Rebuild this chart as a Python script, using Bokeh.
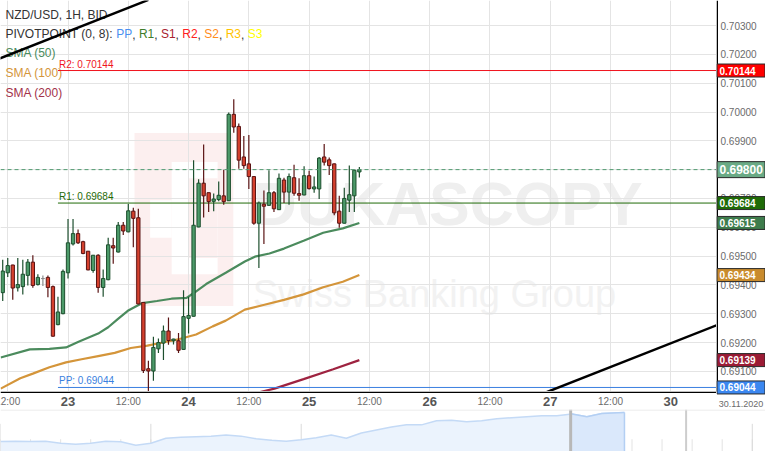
from bokeh.plotting import figure
from bokeh.models import (Range1d, FixedTicker, Label, ColumnDataSource, Span, BoxAnnotation, Grid)
from bokeh.layouts import column, row
from bokeh.embed import file_html
from bokeh.resources import INLINE
from bokeh.core.properties import value

FONT = "Liberation Sans"

# ---------------- data ----------------
# hourly candles, x = hours from 23 Nov 00:00 (trading-time axis)
hours = list(range(-13, 59))
opens = [
    0.69373, 0.69442, 0.69469, 0.69390, 0.69394, 0.69433, 0.69479, 0.69401, 0.69422, 0.69426,
    0.69394, 0.69262, 0.69300, 0.69442, 0.69542, 0.69578, 0.69550, 0.69517, 0.69450, 0.69503,
    0.69391, 0.69418, 0.69536, 0.69514, 0.69607, 0.69584, 0.69656, 0.69633, 0.69339, 0.69109,
    0.69101, 0.69178, 0.69198, 0.69240, 0.69206, 0.69206, 0.69176, 0.69284, 0.69291, 0.69601,
    0.69753, 0.69720, 0.69690, 0.69696, 0.69709, 0.69692, 0.69992, 0.69950, 0.69844, 0.69820,
    0.69776, 0.69614, 0.69680, 0.69676, 0.69720, 0.69661, 0.69764, 0.69722, 0.69772, 0.69717,
    0.69712, 0.69779, 0.69733, 0.69733, 0.69844, 0.69834, 0.69820, 0.69656, 0.69614, 0.69694,
    0.69709, 0.69792]
highs = [
    0.69487, 0.69493, 0.69470, 0.69493, 0.69487, 0.69490, 0.69503, 0.69437, 0.69433, 0.69433,
    0.69398, 0.69359, 0.69453, 0.69629, 0.69629, 0.69592, 0.69553, 0.69518, 0.69503, 0.69506,
    0.69453, 0.69564, 0.69564, 0.69618, 0.69618, 0.69681, 0.69668, 0.69664, 0.69339, 0.69137,
    0.69220, 0.69214, 0.69259, 0.69287, 0.69213, 0.69233, 0.69381, 0.69359, 0.69833, 0.69767,
    0.69887, 0.69720, 0.69717, 0.69759, 0.69800, 0.69998, 0.70044, 0.69960, 0.69917, 0.69920,
    0.69776, 0.69689, 0.69728, 0.69798, 0.69726, 0.69787, 0.69772, 0.69787, 0.69817, 0.69770,
    0.69812, 0.69796, 0.69776, 0.69844, 0.69889, 0.69842, 0.69821, 0.69709, 0.69737, 0.69814,
    0.69800, 0.69809]
lows = [
    0.69344, 0.69427, 0.69348, 0.69377, 0.69367, 0.69398, 0.69390, 0.69398, 0.69396, 0.69357,
    0.69220, 0.69260, 0.69298, 0.69422, 0.69537, 0.69542, 0.69506, 0.69451, 0.69442, 0.69373,
    0.69359, 0.69416, 0.69473, 0.69512, 0.69573, 0.69583, 0.69531, 0.69333, 0.69094, 0.69025,
    0.69067, 0.69164, 0.69139, 0.69192, 0.69193, 0.69164, 0.69174, 0.69231, 0.69290, 0.69600,
    0.69634, 0.69653, 0.69656, 0.69690, 0.69678, 0.69691, 0.69928, 0.69803, 0.69803, 0.69733,
    0.69609, 0.69459, 0.69542, 0.69675, 0.69653, 0.69660, 0.69684, 0.69678, 0.69709, 0.69692,
    0.69711, 0.69731, 0.69720, 0.69698, 0.69814, 0.69781, 0.69642, 0.69598, 0.69613, 0.69653,
    0.69653, 0.69773]
closes = [
    0.69448, 0.69467, 0.69389, 0.69401, 0.69437, 0.69479, 0.69398, 0.69426, 0.69422, 0.69391,
    0.69222, 0.69306, 0.69447, 0.69546, 0.69578, 0.69546, 0.69509, 0.69452, 0.69503, 0.69391,
    0.69422, 0.69539, 0.69528, 0.69607, 0.69587, 0.69657, 0.69631, 0.69334, 0.69103, 0.69101,
    0.69183, 0.69200, 0.69240, 0.69207, 0.69212, 0.69173, 0.69290, 0.69294, 0.69607, 0.69753,
    0.69709, 0.69689, 0.69698, 0.69711, 0.69689, 0.69992, 0.69948, 0.69833, 0.69814, 0.69776,
    0.69614, 0.69684, 0.69673, 0.69720, 0.69664, 0.69770, 0.69722, 0.69776, 0.69718, 0.69711,
    0.69779, 0.69734, 0.69740, 0.69840, 0.69826, 0.69814, 0.69650, 0.69614, 0.69700, 0.69713,
    0.69798, 0.69800]

sma50_t = [-13.4, -7.6, -3.7, -0.4, 2.1, 6.0, 8.0, 9.9, 11.9, 14.8, 17.7, 20.6, 23.6, 24.9,
           27.5, 31.4, 35.2, 37.2, 40.1, 43.0, 46.9, 50.8, 54.7, 58.0]
sma50_v = [0.69148, 0.69176, 0.69178, 0.69183, 0.69203, 0.69231, 0.69253, 0.69281, 0.69310,
           0.69337, 0.69344, 0.69352, 0.69355, 0.69370, 0.69403, 0.69442, 0.69481, 0.69498,
           0.69509, 0.69526, 0.69553, 0.69581, 0.69596, 0.69615]
sma100_t = [-13.4, -9.5, -7.0, -3.7, -0.4, 2.7, 6.0, 9.3, 12.5, 15.8, 19.1, 22.2, 25.5, 28.8,
            31.4, 35.2, 39.1, 43.0, 46.9, 50.8, 54.7, 58.0]
sma100_v = [0.69040, 0.69076, 0.69092, 0.69114, 0.69131, 0.69142, 0.69153, 0.69164, 0.69181,
            0.69189, 0.69201, 0.69212, 0.69228, 0.69256, 0.69276, 0.69314, 0.69331, 0.69348,
            0.69367, 0.69392, 0.69411, 0.69434]
sma200_t = [34.0, 41.1, 46.9, 52.8, 58.0]
sma200_v = [0.69010, 0.69040, 0.69073, 0.69107, 0.69139]

pivot_start = -2.0
pivot_names = ["R2", "R1", "PP"]
pivot_values = [0.70144, 0.69684, 0.69044]
pivot_colors = ["#f0141e", "#1f6b08", "#3a7fe0"]

trend_a_t = [-14.0, 16.0]
trend_a_v = [0.70183, 0.70389]
trend_b_t = [94.0, 130.0]
trend_b_v = [0.69019, 0.69266]

last_price = 0.69800

price_ticks = [0.691, 0.692, 0.693, 0.694, 0.695, 0.696, 0.697, 0.698, 0.699,
               0.700, 0.701, 0.702, 0.703]
day_hours = [0, 24, 48, 72, 96, 120]
day_labels = ["23", "24", "25", "26", "27", "30"]
half_hours = [-12, 12, 36, 60, 84, 108]
half_labels = ["12:00", "12:00", "12:00", "12:00", "12:00", "12:00"]
grid_hours = [-12, 0, 12, 24, 36, 48, 60, 72, 84, 96, 108, 120, 132]
date_label = "30.11.2020"

# navigator (overview) series, x in days
nav_days = [0.0, 0.5, 1.0, 1.5, 2.0, 2.5, 3.0, 3.5, 4.0, 4.5, 5.0, 5.5, 6.0, 6.5, 7.0, 7.5,
            8.0, 8.5, 9.0, 9.5, 10.0, 10.5, 11.0, 11.5, 12.0, 12.5, 13.0, 13.5, 14.0, 14.5,
            15.0, 15.5, 16.0, 16.5, 17.0, 17.5, 18.0, 18.5, 19.0, 19.5, 20.0, 20.75]
nav_level = [9.7, 10, 9.7, 10, 8, 7, 8, 10, 9.5, 6, 8, 13, 14, 14.5, 15, 16, 15, 12.5, 11, 10,
             11.5, 13.5, 16, 13, 18, 21, 24, 26, 26, 30, 30.5, 29, 30, 32, 33, 34, 35, 35,
             36.5, 34, 37, 38]
nav_tick_days = list(range(0, 26))
nav_week_days = [0, 5, 10, 15, 20, 25]
nav_sel_from = 38
nav_handles = [18.96, 22.8]

# ---------------- layout constants ----------------
W = 765
RIGHT = 49
FRAME_W = W - RIGHT      # 716
FRAME_H = 391
STRIP_H = 18
NAV_H = 42
sx = FRAME_W / 732.0
sy = FRAME_H / 407.0
Y_LO, Y_HI = 0.69030, 0.70387
PX = (Y_HI - Y_LO) / FRAME_H   # price per pixel (for the right column)

common = dict(output_backend="svg", toolbar_location=None, x_axis_location=None,
              y_axis_location=None, min_border_left=0, min_border_right=0,
              min_border_top=0, min_border_bottom=0)


def clean(fig):
    fig.grid.visible = False
    fig.outline_line_color = None
    fig.background_fill_color = "white"
    fig.border_fill_color = "white"


# ---------------- main price panel ----------------
p = figure(width=FRAME_W, height=FRAME_H, x_range=Range1d(-13.44, 129.1),
           y_range=Range1d(Y_LO, Y_HI), **common)
clean(p)
p.add_layout(Grid(dimension=0, ticker=FixedTicker(ticks=grid_hours),
                  grid_line_color="#e4e4e4", grid_line_width=1))
p.add_layout(Grid(dimension=1, ticker=FixedTicker(ticks=price_ticks),
                  grid_line_color="#e4e4e4", grid_line_width=1))


def box(l, r, t, b, color):
    return BoxAnnotation(left=l * sx, right=r * sx, top=FRAME_H - t * sy, bottom=FRAME_H - b * sy,
                         left_units="screen", right_units="screen", top_units="screen",
                         bottom_units="screen", fill_color=color, fill_alpha=1.0,
                         line_color=None, level="image")


# watermark
p.add_layout(box(137, 238, 138, 318, "#fcefef"))
p.add_layout(box(175, 222, 168, 285, "#ffffff"))
p.add_layout(box(192, 222, 185, 268, "#fcefef"))
p.add_layout(box(153, 175, 208, 247, "#ffffff"))
p.add_layout(Label(x=258 * sx, y=FRAME_H - 212 * sy, x_units="screen", y_units="screen",
                   text="DUKASCOPY", text_font=FONT, text_font_style="bold",
                   text_font_size="61px", text_color="#efefef", text_baseline="alphabetic",
                   level="image"))
p.add_layout(Label(x=258 * sx, y=FRAME_H - 305 * sy, x_units="screen", y_units="screen",
                   text="Swiss Banking Group", text_font=FONT,
                   text_font_size="38px", text_color="#f2f2f2", text_baseline="alphabetic",
                   level="image"))

# indicators
p.line(sma100_t, sma100_v, line_color="#d4953a", line_width=2.2)
p.line(sma200_t, sma200_v, line_color="#9e2340", line_width=2.2)
p.line(sma50_t, sma50_v, line_color="#4b8b5d", line_width=2.2)

for name, v, c in zip(pivot_names, pivot_values, pivot_colors):
    p.ray(x=[pivot_start], y=[v], length=0, angle=0, line_color=c, line_width=1)
    p.add_layout(Label(x=pivot_start + 0.2, y=v, text=f"{name}: {v:.5f}", text_font=FONT,
                       text_font_size="10px", text_color=c, text_baseline="bottom",
                       y_offset=1))

p.add_layout(Span(location=last_price, dimension="width", line_color="#4f9a6f",
                  line_dash="4 3", line_width=1))

# candles
up_fill, up_line = "#4c9a69", "#1d4f2e"
dn_fill, dn_line = "#d5402d", "#5a1313"
fills, lines_c = [], []
for o, c in zip(opens, closes):
    if c > o:
        fills.append(up_fill); lines_c.append(up_line)
    elif c < o:
        fills.append(dn_fill); lines_c.append(dn_line)
    else:
        fills.append("#8a8a8a"); lines_c.append("#8a8a8a")
src = ColumnDataSource(dict(
    t=hours, o=opens, h=highs, l=lows, c=closes,
    top=[max(a, b) for a, b in zip(opens, closes)],
    bot=[min(a, b) for a, b in zip(opens, closes)],
    fill=fills, lc=lines_c))
p.segment(x0="t", y0="l", x1="t", y1="h", line_color="lc", line_width=1.2, source=src)
p.vbar(x="t", width=0.66, top="top", bottom="bot", fill_color="fill", line_color="lc",
       line_width=1, source=src)

# trend lines
p.line(trend_a_t, trend_a_v, line_color="black", line_width=2.5)
p.line(trend_b_t, trend_b_v, line_color="black", line_width=2.5)


# legend texts
def toplabel(x, ytop, text, color, size="12px"):
    p.add_layout(Label(x=x, y=FRAME_H - ytop * sy, x_units="screen", y_units="screen",
                       text=text, text_font=FONT, text_font_size=size,
                       text_color=color, text_baseline="middle", level="underlay"))


toplabel(5, 15, "NZD/USD, 1H, BID", "#333333")
toplabel(5, 35, "PIVOTPOINT (0, 8): ", "#333333")
piv_tokens = ["PP", "R1", "S1", "R2", "S2", "R3", "S3"]
piv_colors = ["#4a8ff0", "#3f7d2a", "#a8232e", "#ff2020", "#ff8c1a", "#ffc200", "#ffff00"]
piv_x = [115.7, 138.4, 160.4, 181.8, 203.8, 225.2, 247.2]
piv_w = [16.0, 15.3, 14.7, 15.3, 14.7, 15.3, 14.7]
for i, (tok, col, xx, ww) in enumerate(zip(piv_tokens, piv_colors, piv_x, piv_w)):
    toplabel(xx, 35, tok, col)
    if i < len(piv_tokens) - 1:
        toplabel(xx + ww, 35, ",", "#333333")
toplabel(5, 55, "SMA (50)", "#4b8b5d")
toplabel(5, 75, "SMA (100)", "#d4953a")
toplabel(5, 96, "SMA (200)", "#a3324a")

# ---------------- time labels strip ----------------
strip = figure(width=FRAME_W, height=STRIP_H, x_range=p.x_range, y_range=Range1d(0, STRIP_H),
               **common)
clean(strip)
strip.add_layout(Span(location=STRIP_H - 0.75, dimension="width", line_color="black",
                      line_width=1.5))
strip.text(x=day_hours, y=8.5, text=day_labels, text_font=value(FONT), text_font_size="13px",
           text_font_style="bold", text_color="#555555", text_align="center",
           text_baseline="middle")
strip.text(x=half_hours, y=8.5, text=half_labels, text_font=value(FONT), text_font_size="10px",
           text_color="#6b6b6b", text_align="center", text_baseline="middle")

# ---------------- right price scale (spans price panel + time strip) ----------------
rfig = figure(width=RIGHT, height=FRAME_H + STRIP_H, x_range=Range1d(0, RIGHT),
              y_range=Range1d(Y_LO - STRIP_H * PX, Y_HI), **common)
clean(rfig)
rfig.segment(x0=[0.75], y0=[Y_LO], x1=[0.75], y1=[Y_HI], line_color="black", line_width=1.5)
rfig.text(x=4, y=price_ticks, text=[f"{v:.5f}" for v in price_ticks],
          text_font=value(FONT), text_font_size="10px", text_color="#6b6b6b",
          text_align="left", text_baseline="middle")
rfig.text(x=[RIGHT / 2], y=[Y_LO - 12 * PX], text=[date_label], text_font=value(FONT),
          text_font_size="9px", text_color="#6b6b6b", text_align="center",
          text_baseline="middle")

box_values = [pivot_values[0], last_price, pivot_values[1], sma50_v[-1], sma100_v[-1],
              sma200_v[-1], pivot_values[2]]
box_colors = ["#ff0000", "#6aaa85", "#1f6b08", "#3e7c4c", "#c98b2d", "#9b1b35", "#3b87f0"]
box_sizes = ["10px", "12px", "10px", "10px", "10px", "10px", "10px"]
box_heights = [13, 16, 13, 13, 13, 13, 13]
bsrc = ColumnDataSource(dict(y=box_values, fill=box_colors, size=box_sizes, hh=box_heights,
                             text=[f"{v:.5f}" for v in box_values]))
rfig.rect(x=RIGHT / 2, y="y", width=RIGHT - 1, height="hh", height_units="screen",
          fill_color="fill", line_color="#2a2a2a", line_width=1, source=bsrc)
rfig.text(x=3, y="y", text="text", text_font=value(FONT), text_font_size="size",
          text_font_style="bold", text_color="white", text_align="left",
          text_baseline="middle", source=bsrc)

# ---------------- navigator ----------------
nav = figure(width=W, height=NAV_H, x_range=Range1d(0, 25.44), y_range=Range1d(0, 41), **common)
clean(nav)
nav.segment(x0=nav_tick_days, y0=0, x1=nav_tick_days, y1=12, line_color="#e3e3e3", line_width=1)
nav.segment(x0=nav_week_days, y0=0, x1=nav_week_days, y1=27, line_color="#dadada", line_width=1)
nav.varea(x=nav_days, y1=0, y2=nav_level, fill_color="#ebf3fd", fill_alpha=1.0)
nav.line(nav_days, nav_level, line_color="#c4daf6", line_width=1.5)
sel_d = nav_days[nav_sel_from:]
sel_v = nav_level[nav_sel_from:]
nav.varea(x=sel_d, y1=0, y2=sel_v, fill_color="#dae8fb", fill_alpha=1.0)
nav.line(sel_d, sel_v, line_color="#b3cff3", line_width=1.5)
nav.segment(x0=[sel_d[-1]], y0=[0], x1=[sel_d[-1]], y1=[sel_v[-1]], line_color="#b3cff3",
            line_width=1.5)
nav.add_layout(Span(location=nav_handles[0], dimension="height", line_color="#b8b8b8",
                    line_width=3))
nav.add_layout(Span(location=nav_handles[1], dimension="height", line_color="#cdcdcd",
                    line_width=2))
nav.add_layout(Span(location=40.5, dimension="width", line_color="#e6e6e6", line_width=1))

layout = column(row(column(p, strip), rfig), nav)
open("out.html", "w").write(file_html(layout, INLINE))
